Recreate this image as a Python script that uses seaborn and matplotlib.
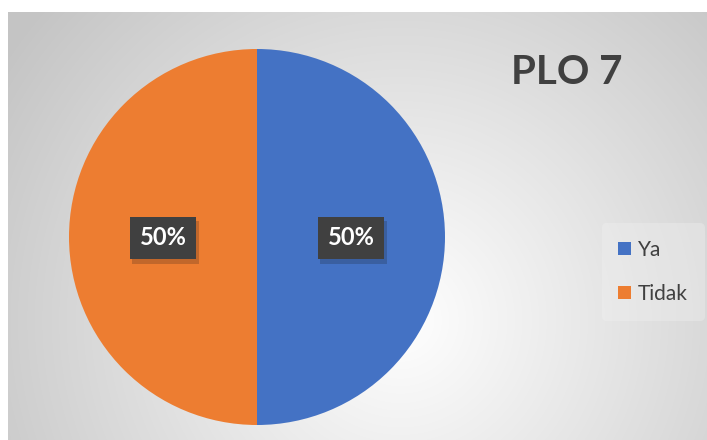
import numpy as np
import matplotlib
matplotlib.use("Agg")
import matplotlib.pyplot as plt
import matplotlib.patheffects as pe
from matplotlib.colors import LinearSegmentedColormap
import seaborn as sns

title = "PLO 7"
categories = ["Ya", "Tidak"]
values = [50, 50]
colors = ["#4472C4", "#ED7D31"]

sns.set_theme(style="white")
plt.rcParams["font.family"] = ["Lato", "DejaVu Sans"]

W, H = 707, 440
fig = plt.figure(figsize=(W / 100, H / 100), dpi=100)
fig.patch.set_facecolor("white")

# chart area with a soft radial gradient
x0, y0top = 8, 12
bg = fig.add_axes([x0 / W, 0, (W - x0) / W, (H - y0top) / H])
gw, gh = W - x0, H - y0top
xx, yy = np.meshgrid(np.arange(gw), np.arange(gh))
cx, cy = 400 - x0, 320 - y0top
d = np.sqrt((xx - cx) ** 2 + (yy - cy) ** 2) / 480
d = np.clip(d, 0, 1)
cmap = LinearSegmentedColormap.from_list("bg", ["#ffffff", "#c4c4c4"])
bg.imshow(d, cmap=cmap, vmin=0, vmax=1, aspect="auto", origin="upper",
          extent=[0, gw, gh, 0])
bg.set_axis_off()

# pie
r = 188
pcx, pcy = 257, H - 237
ax = fig.add_axes([(pcx - r) / W, (pcy - r) / H, 2 * r / W, 2 * r / H])
wedges, _ = ax.pie(values, colors=colors, startangle=90, counterclock=False,
                   radius=1.0, wedgeprops=dict(linewidth=0))
ax.set_xlim(-1, 1)
ax.set_ylim(-1, 1)
ax.set_aspect("equal")
ax.set_axis_off()

# value labels on dark boxes
ang = np.cumsum([0] + values)
for i, v in enumerate(values):
    mid = np.deg2rad(90 - (ang[i] + ang[i + 1]) / 2 * 3.6)
    ax.text(0.5 * np.cos(mid), 0.5 * np.sin(mid) - 0.005, f"{v}%",
            ha="center", va="center", fontsize=17, fontweight="bold",
            color="white",
            bbox=dict(boxstyle="square,pad=0.42", fc="#404040", ec="none",
                      path_effects=[pe.SimplePatchShadow(offset=(2, -3), alpha=0.2),
                                    pe.Normal()]))

fig.text(567 / W, 1 - 73 / H, title, ha="center", va="center",
         fontsize=29, fontweight="bold", color="#404040")

leg = fig.legend(wedges, categories, loc="center", bbox_to_anchor=(653 / W, 1 - 272 / H),
                 frameon=True, fontsize=15, handlelength=0.6, handleheight=0.6,
                 labelspacing=1.15, handletextpad=0.35, borderpad=0.8)
leg.get_frame().set_facecolor("#f2f2f2")
leg.get_frame().set_edgecolor("none")
leg.get_frame().set_alpha(0.35)
for t in leg.get_texts():
    t.set_color("#404040")

fig.savefig("out.png", dpi=100)
